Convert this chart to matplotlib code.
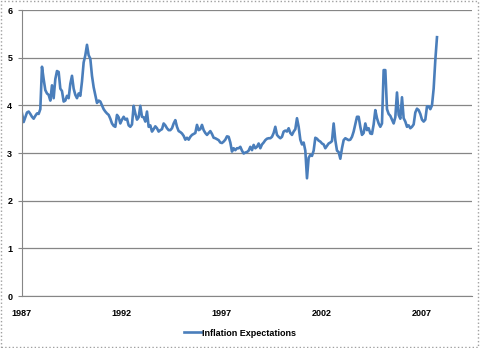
import numpy as np
import matplotlib.pyplot as plt
from matplotlib.patches import Rectangle

# monthly readings, starting Jan 1987
expectations = [
    3.83, 3.65, 3.75, 3.85, 3.87, 3.82, 3.76, 3.72, 3.78, 3.83,
    3.82, 3.92, 4.81, 4.55, 4.32, 4.25, 4.22, 4.10, 4.42, 4.15,
    4.55, 4.72, 4.70, 4.35, 4.30, 4.08, 4.10, 4.20, 4.15, 4.45,
    4.62, 4.35, 4.22, 4.15, 4.25, 4.20, 4.50, 4.90, 5.05, 5.27,
    5.05, 4.98, 4.62, 4.38, 4.22, 4.05, 4.10, 4.08, 4.00, 3.92,
    3.87, 3.83, 3.80, 3.72, 3.62, 3.57, 3.55, 3.80, 3.75, 3.62,
    3.70, 3.76, 3.70, 3.72, 3.58, 3.55, 3.60, 3.99, 3.83, 3.70,
    3.75, 3.99, 3.76, 3.75, 3.66, 3.87, 3.55, 3.58, 3.45, 3.50,
    3.56, 3.52, 3.45, 3.48, 3.50, 3.62, 3.58, 3.52, 3.48, 3.48,
    3.52, 3.62, 3.69, 3.55, 3.46, 3.44, 3.41, 3.36, 3.28, 3.32,
    3.28, 3.34, 3.38, 3.40, 3.42, 3.59, 3.48, 3.50, 3.59, 3.48,
    3.42, 3.38, 3.42, 3.46, 3.40, 3.32, 3.31, 3.29, 3.27, 3.22,
    3.21, 3.24, 3.28, 3.35, 3.34, 3.22, 3.03, 3.10, 3.06, 3.10,
    3.10, 3.13, 3.05, 2.99, 3.01, 3.02, 3.05, 3.13, 3.06, 3.17,
    3.10, 3.13, 3.20, 3.10, 3.18, 3.22, 3.27, 3.30, 3.31, 3.31,
    3.34, 3.42, 3.55, 3.38, 3.34, 3.31, 3.34, 3.45, 3.47, 3.45,
    3.52, 3.42, 3.38, 3.45, 3.50, 3.73, 3.55, 3.28, 3.18, 3.22,
    3.05, 2.47, 2.90, 2.96, 2.94, 3.05, 3.32, 3.30, 3.26, 3.24,
    3.20, 3.18, 3.10, 3.15, 3.20, 3.22, 3.25, 3.62, 3.27, 3.05,
    3.02, 2.88, 3.10, 3.27, 3.31, 3.29, 3.27, 3.28, 3.34, 3.45,
    3.60, 3.76, 3.76, 3.55, 3.38, 3.42, 3.62, 3.48, 3.52, 3.41,
    3.40, 3.60, 3.90, 3.73, 3.62, 3.55, 3.62, 4.74, 4.74, 3.92,
    3.82, 3.78, 3.70, 3.62, 3.75, 4.27, 3.80, 3.72, 4.17, 3.73,
    3.66, 3.55, 3.58, 3.52, 3.55, 3.60, 3.85, 3.93, 3.90, 3.82,
    3.70, 3.66, 3.70, 3.98, 3.98, 3.92, 4.00, 4.35, 4.95, 5.43,
]
year_labels = ["1987", "1992", "1997", "2002", "2007"]
y_ticks = [0, 1, 2, 3, 4, 5, 6]

months = np.arange(len(expectations))

fig = plt.figure(figsize=(4.8, 3.48), dpi=100)
ax = fig.add_axes([0.0458, 0.1494, 0.9375, 0.8218])

ax.plot(months, expectations, color="#4a7ebb", linewidth=1.9,
        label="Inflation Expectations")

ax.set_xlim(0, 270)
ax.set_ylim(0, 6)
ax.set_xticks([i * 60 for i in range(len(year_labels))])
ax.set_xticklabels(year_labels)
ax.set_yticks(y_ticks)
ax.grid(axis="y", color="#868686", linewidth=0.9)
ax.set_axisbelow(True)

for s in ["top", "right"]:
    ax.spines[s].set_visible(False)
ax.spines["left"].set_color("#868686")
ax.spines["bottom"].set_color("#868686")
ax.tick_params(axis="y", length=3, color="#868686", pad=4)
ax.tick_params(axis="x", length=0, pad=9)
for lab in ax.get_xticklabels() + ax.get_yticklabels():
    lab.set_fontfamily("Liberation Sans")
    lab.set_fontweight("bold")
    lab.set_fontsize(6.5)

fig.legend(loc="center", bbox_to_anchor=(0.5, 0.043), frameon=False,
           prop={"family": "Liberation Sans", "weight": "bold", "size": 6.5},
           handlelength=1.8, handletextpad=0.1)

# dotted chart border
fig.patches.append(Rectangle((0.002, 0.003), 0.994, 0.994, transform=fig.transFigure,
                             fill=False, edgecolor="#a0a0a0", linestyle=":", linewidth=1))

fig.savefig("out.png", dpi=100)
